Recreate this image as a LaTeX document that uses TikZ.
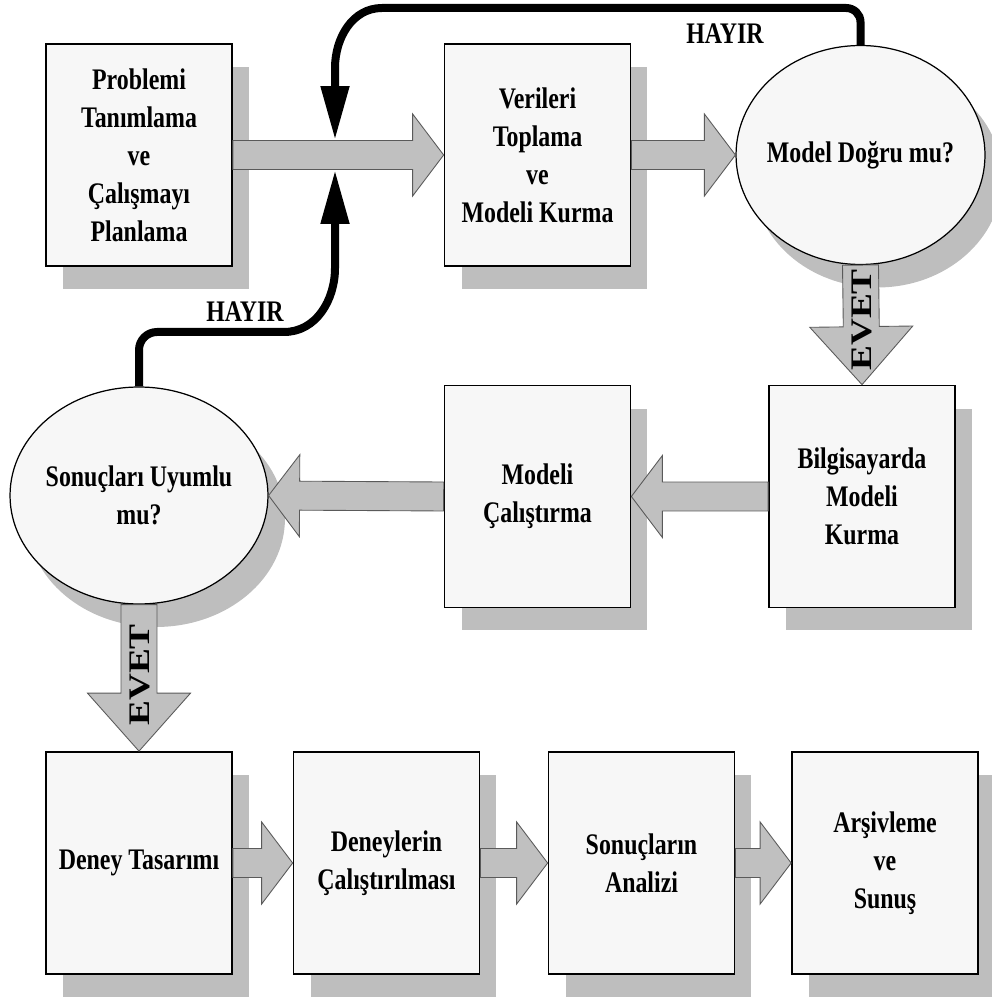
\documentclass[tikz,border=0pt]{standalone}
\usepackage{fontspec}
\setmainfont{Liberation Serif}[FakeStretch=0.8]
\newfontfamily\evetfont{Liberation Serif}[FakeStretch=1.25]
\usetikzlibrary{shapes.geometric,shadows,calc,arrows.meta}

\definecolor{boxfill}{HTML}{F7F7F7}
\definecolor{shadowgray}{HTML}{BEBEBE}
\definecolor{arrowfill}{HTML}{C0C0C0}
\definecolor{arrowline}{HTML}{5A5A5A}

\newcommand\kutufont{\fontsize{17pt}{21.6pt}\selectfont\bfseries}

\tikzset{
  shade box/.style={drop shadow={shadow xshift=0.34cm, shadow yshift=-0.46cm, fill=shadowgray, opacity=1}},
  box/.style={draw, line width=1pt, fill=boxfill, minimum width=3.72cm, minimum height=4.44cm,
    align=center, font=\kutufont, shade box},
  decision/.style={ellipse, draw, line width=0.7pt, fill=boxfill, inner sep=-0.4cm,
    align=center, font=\kutufont, shade box},
  blockarrow/.style={fill=arrowfill, draw=arrowline, line width=0.5pt},
  noarrow/.style={line width=0.16cm, -{Triangle[length=1.08cm, width=0.54cm]}},
  hayirlabel/.style={font=\kutufont},
  evetlabel/.style={rotate=90, font=\fontsize{17pt}{20pt}\selectfont\evetfont\bfseries}
}

% #1 from, #2 to, #3 half shaft, #4 half head, #5 head length
\newcommand\blockarrow[5]{%
  \path (#1) coordinate (ba-s) (#2) coordinate (ba-t)
    ($(ba-t)!#5!(ba-s)$) coordinate (ba-h);
  \filldraw[blockarrow] ($(ba-s)!#3!90:(ba-t)$) -- ($(ba-h)!#3!-90:(ba-s)$)
    -- ($(ba-h)!#4!-90:(ba-s)$) -- (ba-t) -- ($(ba-h)!#4!90:(ba-s)$)
    -- ($(ba-h)!#3!90:(ba-s)$) -- ($(ba-s)!#3!-90:(ba-t)$) -- cycle;
}

\begin{document}
\begin{tikzpicture}[x=0.02cm, y=-0.02cm]
  \useasboundingbox (0,0) rectangle (991,999);

  \foreach \n/\x/\y/\t in {pr/139/155/{Problemi\\Tanımlama\\ve\\Çalışmayı\\Planlama},
      ver/537.5/155/{Verileri\\Toplama\\ve\\Modeli Kurma},
      bil/862/496.5/{Bilgisayarda\\Modeli\\Kurma},
      cal/537.5/496.5/{Modeli\\Çalıştırma},
      dt/139/863/{Deney Tasarımı},
      dc/386.5/863/{Deneylerin\\Çalıştırılması},
      sa/641.5/863/{Sonuçların\\Analizi},
      ar/885/863/{Arşivleme\\ve\\Sunuş}}
    \node[box] (\n) at (\x,\y) {\t};

  \node[decision, minimum width=4.98cm, minimum height=4.38cm] (mdl) at (860.5,155) {Model Doğru mu?};
  \node[decision, minimum width=5.16cm, minimum height=4.34cm] (uy) at (139,495.5) {Sonuçları Uyumlu\\mu?};

  \foreach \a/\b in {pr.east/ver.west, ver.east/mdl.west, bil.west/cal.east, cal.west/uy.east,
      dt.east/dc.west, dc.east/sa.west, sa.east/ar.west}
    {\blockarrow{\a}{\b}{0.29cm}{0.82cm}{0.62cm}}

  \foreach \a/\b in {mdl.south/bil.north, uy.south/dt.north}
    {\blockarrow{\a}{\b}{0.36cm}{1.03cm}{1.16cm}}

  \node[evetlabel] (evet1) at (862,320) {EVET};
  \node[evetlabel] (evet2) at (140,675) {EVET};

  \coordinate (jtop) at (335,140);
  \coordinate (jbot) at (335,170);

  \draw[noarrow] (mdl.north) -- (860.5,22) to[out=90,in=0] (846,8) -- (382,8)
    to[out=180,in=90] (335,68) -- (jtop);
  \draw[noarrow] (uy.north) -- (139,350) to[out=90,in=180] (157,332) -- (284,332)
    to[out=0,in=-90] (335,268) -- (jbot);

  \node[hayirlabel] (hayir1) at (725,34) {HAYIR};
  \node[hayirlabel] (hayir2) at (245,312) {HAYIR};
\end{tikzpicture}
\end{document}
